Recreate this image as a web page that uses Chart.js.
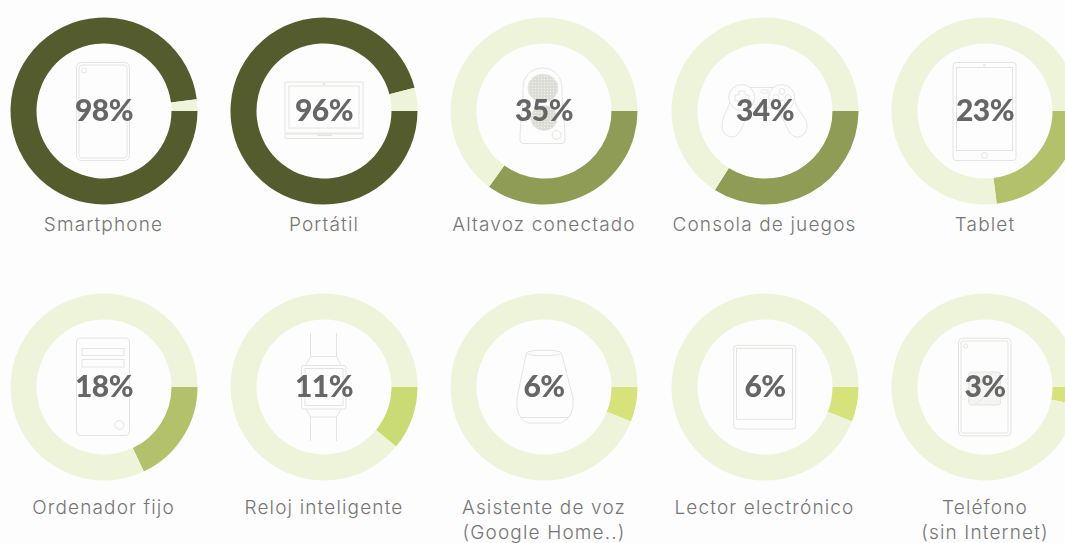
<!DOCTYPE html>
<html lang="es">
<head>
<meta charset="utf-8">
<title>Dispositivos</title>
<script src="https://cdn.jsdelivr.net/npm/chart.js@4"></script>
<style>
    html, body { margin: 0; padding: 0; background: #fdfdfd; }
    #page { position: relative; width: 1065px; height: 543px; overflow: hidden; }
    #icons { position: absolute; left: 0; top: 0; }
    #icons * { fill: none; stroke: #e4e4e2; stroke-width: 1; }
    #icons pattern rect { fill: #dcdcd7; stroke: none; }
    #icons pattern circle { fill: #f0f0ec; stroke: none; }
    #icons .dots { fill: url(#dots); }
    #icons .pale { fill: #f4f4f2; }
    canvas { position: absolute; }
    .label {
        position: absolute; width: 220px; text-align: center;
        font: 300 19px/25px Inter, sans-serif; letter-spacing: 1.15px; color: #757575;
    }
</style>
</head>
<body>
<div id="page">
<svg id="icons" width="1065" height="543">
    <defs>
        <pattern id="dots" width="3" height="3" patternUnits="userSpaceOnUse">
            <rect width="3" height="3"/>
            <circle cx="1.5" cy="1.5" r="0.7"/>
        </pattern>
    </defs>
    <!-- smartphone -->
    <rect x="76.5" y="62.5" width="53" height="98" rx="5"/>
    <rect x="79" y="65" width="48" height="93" rx="3"/>
    <circle cx="84" cy="70.5" r="2.5"/>
    <!-- laptop -->
    <rect x="285" y="82" width="78" height="51"/>
    <rect x="289" y="86" width="70" height="42"/>
    <rect x="285" y="134" width="78" height="4.5" rx="1"/>
    <rect x="318" y="134" width="13" height="1.5"/>
    <circle cx="324" cy="84" r="1"/>
    <!-- speaker -->
    <path d="M523 143.500h39a3 3 0 0 0 3-3c0-20-3-30-3-47v-5c0-12-8-20.500-19.500-20.500s-19.500 8.500-19.500 20.500v5c0 17-3 27-3 47a3 3 0 0 0 3 3z"/>
    <ellipse class="dots" cx="543" cy="88" rx="15" ry="13.700"/>
    <ellipse class="dots" cx="544" cy="118" rx="13" ry="12.500"/>
    <circle cx="556.700" cy="135" r="4.500"/>
    <!-- game controller -->
    <path d="M730 102C726 113 722 118 722 126C722 133 727 137 732 137C741 137 743 122 750 110M754 108H774M795 102C799 113 807 118 807 126C807 133 802 137 797 137C788 137 786 122 778 110M750 87.500H773"/>
    <circle cx="741.700" cy="97.500" r="13"/>
    <circle cx="781.700" cy="97.500" r="13"/>
    <rect x="761" y="90" width="7" height="3" rx="1"/>
    <path d="M739 91h6v4h4v6h-4h-6h-4v-6h4z"/>
    <circle cx="782" cy="91.500" r="3"/><circle cx="788" cy="97.500" r="3"/><circle cx="782" cy="103" r="3"/><circle cx="776" cy="97.500" r="3"/>
    <!-- tablet -->
    <rect x="953" y="62.500" width="63" height="98" rx="3"/>
    <rect x="956.500" y="67.500" width="56" height="83"/>
    <circle cx="984.500" cy="155.500" r="3"/>
    <circle cx="984.500" cy="65.300" r="1"/>
    <!-- desktop -->
    <rect x="76.500" y="338" width="53" height="97.500" rx="4"/>
    <rect x="82" y="348.500" width="42" height="7"/>
    <rect x="82" y="359.500" width="42" height="7.500"/>
    <circle cx="119.500" cy="425" r="4.500"/>
    <!-- watch -->
    <path d="M310.500 333v24M336.500 333v24M310.500 417v24M336.500 417v24"/>
    <path d="M306 365l4.500-8.500h26l4.500 8.500M306 409l4.500 8h26l4.500-8"/>
    <rect x="301.500" y="365.500" width="44.500" height="43.500" rx="2"/>
    <rect x="305" y="368.500" width="38" height="37"/>
    <!-- voice assistant -->
    <ellipse cx="544" cy="353" rx="17.500" ry="2.800"/>
    <path d="M526.500 353L517 398Q515 418 528 423H561Q575 417 573 398L561.500 353"/>
    <path d="M520 417.500h48"/>
    <!-- e-reader -->
    <rect x="733.700" y="345.300" width="62" height="83.700" rx="3"/>
    <rect x="736.500" y="348.300" width="56" height="71"/>
    <!-- phone without internet -->
    <rect x="958.500" y="338.300" width="52.500" height="97.500" rx="4"/>
    <rect x="961" y="341" width="47" height="92" rx="2"/>
    <circle cx="965.700" cy="346" r="2"/>
    <rect class="pale" x="968.700" y="372" width="32" height="33" rx="3"/>
    <path d="M969 393l24-21M975 405l26-23"/>
</svg>
</div>
<script>
const categories = ['Smartphone', 'Portátil', 'Altavoz conectado', 'Consola de juegos', 'Tablet',
    'Ordenador fijo', 'Reloj inteligente', 'Asistente de voz\n(Google Home..)', 'Lector electrónico', 'Teléfono\n(sin Internet)'];
const values = [98, 96, 35, 34, 23, 18, 11, 6, 6, 3];
const colors = ['#545c2e', '#545c2e', '#8e9c55', '#8e9c55', '#b3c16a', '#b3c16a', '#cbdb74', '#d6e27a', '#d6e27a', '#d6e27a'];
const trackColor = '#eef4da';

const centerX = [103.5, 324, 544, 764.5, 985];
const centerY = [110.5, 387];
const labelY = [212, 495];

// percentage in the hole of each doughnut
const centerText = {
    id: 'centerText',
    afterDatasetsDraw(chart) {
        const arc = chart.getDatasetMeta(0).data[0];
        const ctx = chart.ctx;
        ctx.save();
        ctx.font = '900 30px Lato, sans-serif';
        ctx.letterSpacing = '-0.5px';
        ctx.fillStyle = '#666';
        ctx.textAlign = 'center';
        ctx.textBaseline = 'middle';
        ctx.fillText(chart.data.datasets[0].data[0] + '%', arc.x, arc.y);
        ctx.restore();
    }
};

const page = document.getElementById('page');

categories.forEach((name, i) => {
    const cx = centerX[i % 5];
    const row = Math.floor(i / 5);

    const canvas = document.createElement('canvas');
    canvas.style.left = (cx - 100) + 'px';
    canvas.style.top = (centerY[row] - 100) + 'px';
    canvas.width = 200;
    canvas.height = 200;
    page.appendChild(canvas);

    new Chart(canvas, {
        type: 'doughnut',
        data: {
            labels: [name, ''],
            datasets: [{
                data: [values[i], 100 - values[i]],
                backgroundColor: [colors[i], trackColor],
                borderWidth: 0
            }]
        },
        options: {
            responsive: false,
            animation: false,
            rotation: 90,
            radius: 93.5,
            cutout: '72.2%',
            events: [],
            plugins: {
                legend: { display: false },
                tooltip: { enabled: false }
            }
        },
        plugins: [centerText]
    });

    const label = document.createElement('div');
    label.className = 'label';
    label.style.left = (cx - 110) + 'px';
    label.style.top = labelY[row] + 'px';
    label.innerHTML = name.replace('\n', '<br>');
    page.appendChild(label);
});
</script>
</body>
</html>
